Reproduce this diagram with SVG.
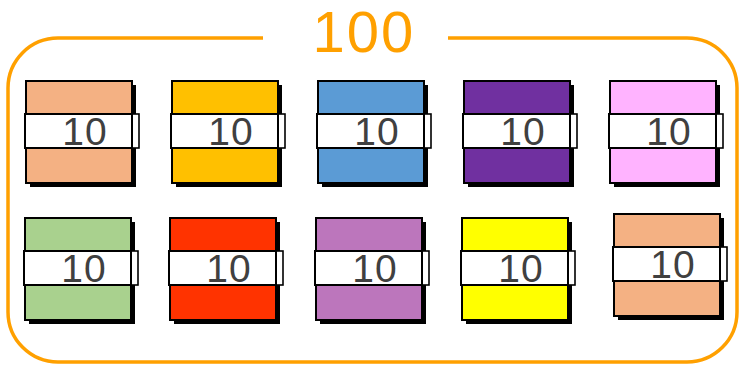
<svg xmlns="http://www.w3.org/2000/svg" width="739" height="365" viewBox="0 0 739 365">
<style>
.sh{fill:#000}
.bx{stroke:#000;stroke-width:2}
.band{fill:#fff;stroke:#000;stroke-width:2}
.tab{fill:#fff;stroke:#000;stroke-width:1.6}
.lbl{font-family:"Liberation Sans",Arial,sans-serif;font-size:39px;fill:#404040;text-anchor:middle;letter-spacing:1px}
.frame{fill:none;stroke:#FFA000;stroke-width:3.5}
.title{font-family:"Liberation Sans",Arial,sans-serif;font-size:58px;fill:#FFA000;text-anchor:middle;letter-spacing:2px}
</style>
<defs>
<g id="blk">
<rect class="sh" x="4" y="4" width="106" height="102"/>
<rect class="tab" x="106" y="33" width="7" height="34"/>
</g>
</defs>
<g id="connectors">
<path class="frame" d="M263,38 H58 A50,50 0 0 0 8,88 V312 A50,50 0 0 0 58,362 H687 A50,50 0 0 0 737,312 V88 A50,50 0 0 0 687,38 H448"/>
</g>
<text id="title" class="title" x="364" y="52">100</text>
<g id="n1" transform="translate(26,81)"><use href="#blk"/><rect class="bx" fill="#F4B183" x="0" y="0" width="106" height="102"/><rect class="band" x="-1" y="33" width="107" height="34"/><text class="lbl" x="59" y="64">10</text></g>
<g id="n2" transform="translate(172,81)"><use href="#blk"/><rect class="bx" fill="#FFC000" x="0" y="0" width="106" height="102"/><rect class="band" x="-1" y="33" width="107" height="34"/><text class="lbl" x="59" y="64">10</text></g>
<g id="n3" transform="translate(318,81)"><use href="#blk"/><rect class="bx" fill="#5B9BD5" x="0" y="0" width="106" height="102"/><rect class="band" x="-1" y="33" width="107" height="34"/><text class="lbl" x="59" y="64">10</text></g>
<g id="n4" transform="translate(464,81)"><use href="#blk"/><rect class="bx" fill="#7030A0" x="0" y="0" width="106" height="102"/><rect class="band" x="-1" y="33" width="107" height="34"/><text class="lbl" x="59" y="64">10</text></g>
<g id="n5" transform="translate(610,81)"><use href="#blk"/><rect class="bx" fill="#FFB3FF" x="0" y="0" width="106" height="102"/><rect class="band" x="-1" y="33" width="107" height="34"/><text class="lbl" x="59" y="64">10</text></g>
<g id="n6" transform="translate(25,218)"><use href="#blk"/><rect class="bx" fill="#A9D18E" x="0" y="0" width="106" height="102"/><rect class="band" x="-1" y="33" width="107" height="34"/><text class="lbl" x="59" y="64">10</text></g>
<g id="n7" transform="translate(170,218)"><use href="#blk"/><rect class="bx" fill="#FF3300" x="0" y="0" width="106" height="102"/><rect class="band" x="-1" y="33" width="107" height="34"/><text class="lbl" x="59" y="64">10</text></g>
<g id="n8" transform="translate(316,218)"><use href="#blk"/><rect class="bx" fill="#BC76BC" x="0" y="0" width="106" height="102"/><rect class="band" x="-1" y="33" width="107" height="34"/><text class="lbl" x="59" y="64">10</text></g>
<g id="n9" transform="translate(462,218)"><use href="#blk"/><rect class="bx" fill="#FFFF00" x="0" y="0" width="106" height="102"/><rect class="band" x="-1" y="33" width="107" height="34"/><text class="lbl" x="59" y="64">10</text></g>
<g id="n10" transform="translate(614,214)"><use href="#blk"/><rect class="bx" fill="#F4B183" x="0" y="0" width="106" height="102"/><rect class="band" x="-1" y="33" width="107" height="34"/><text class="lbl" x="59" y="64">10</text></g>
</svg>
